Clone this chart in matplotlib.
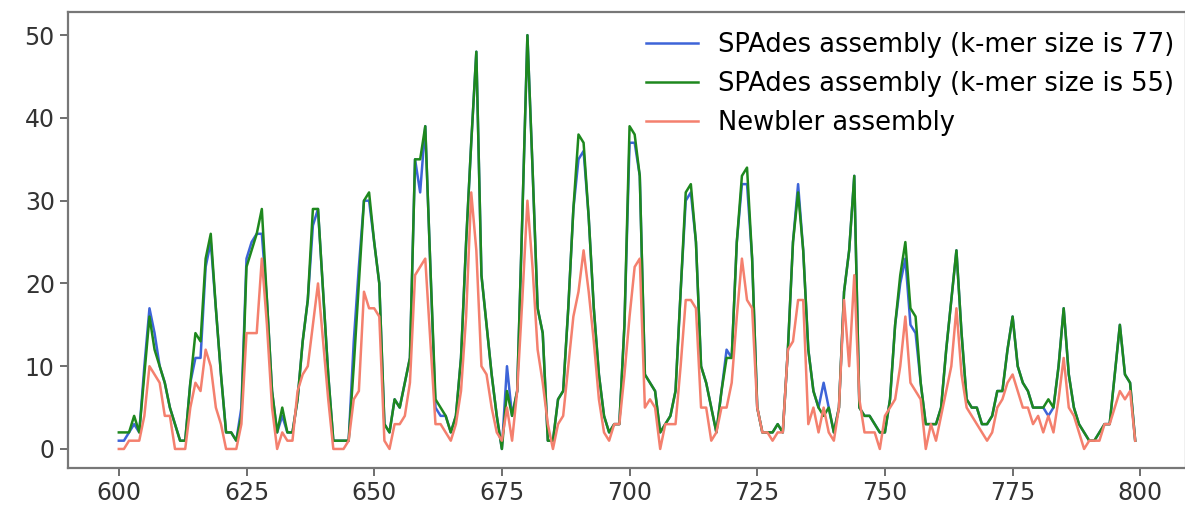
import numpy as np
import matplotlib
matplotlib.use("Agg")
import matplotlib.pyplot as plt

plt.rcParams['font.family'] = ['DejaVu Sans']

# positions 600..799
positions = np.arange(600, 800)

# SPAdes, k-mer size 55
spades_55 = [
    2, 2, 2, 4, 2, 9, 16, 12, 10, 8,       # 600
    5, 3, 1, 1, 8, 14, 13, 23, 26, 17,     # 610
    9, 2, 2, 1, 4, 22, 24, 26, 29, 18,     # 620
    7, 2, 5, 2, 2, 6, 13, 18, 29, 29,      # 630
    19, 9, 1, 1, 1, 1, 10, 20, 30, 31,     # 640
    25, 20, 3, 2, 6, 5, 8, 11, 35, 35,     # 650
    39, 22, 6, 5, 4, 2, 4, 11, 25, 37,     # 660
    48, 21, 15, 9, 4, 0, 7, 4, 7, 28,      # 670
    50, 34, 17, 14, 1, 1, 6, 7, 17, 29,    # 680
    38, 37, 28, 17, 9, 4, 2, 3, 3, 15,     # 690
    39, 38, 33, 9, 8, 7, 2, 3, 4, 7,       # 700
    19, 31, 32, 25, 10, 8, 5, 2, 7, 11,    # 710
    11, 25, 33, 34, 23, 5, 2, 2, 2, 3,     # 720
    2, 12, 25, 31, 24, 12, 7, 5, 4, 5,     # 730
    2, 5, 19, 24, 33, 5, 4, 4, 3, 2,       # 740
    2, 6, 15, 21, 25, 17, 16, 8, 3, 3,     # 750
    3, 5, 12, 18, 24, 14, 6, 5, 5, 3,      # 760
    3, 4, 7, 7, 12, 16, 10, 8, 7, 5,       # 770
    5, 5, 6, 5, 10, 17, 9, 5, 3, 2,        # 780
    1, 1, 2, 3, 3, 9, 15, 9, 8, 1,         # 790
]

# SPAdes, k-mer size 77
spades_77 = [
    1, 1, 2, 3, 2, 10, 17, 14, 10, 8,
    5, 3, 1, 1, 8, 11, 11, 22, 25, 17,
    9, 2, 2, 1, 5, 23, 25, 26, 26, 18,
    7, 2, 4, 2, 2, 6, 13, 18, 27, 29,
    19, 9, 1, 1, 1, 1, 13, 22, 30, 30,
    25, 20, 3, 2, 6, 5, 8, 11, 35, 31,
    39, 22, 5, 4, 4, 2, 4, 11, 25, 37,
    48, 21, 15, 9, 4, 0, 10, 4, 7, 28,
    50, 34, 17, 14, 1, 1, 6, 7, 17, 29,
    35, 36, 28, 17, 9, 4, 2, 3, 3, 15,
    37, 37, 33, 9, 8, 7, 2, 3, 4, 7,
    19, 30, 31, 25, 10, 8, 5, 2, 7, 12,
    11, 25, 32, 32, 23, 5, 2, 2, 2, 3,
    2, 12, 25, 32, 24, 12, 7, 5, 8, 5,
    2, 5, 19, 24, 33, 5, 4, 4, 3, 2,
    2, 6, 15, 20, 23, 15, 14, 8, 3, 3,
    3, 5, 12, 18, 24, 14, 6, 5, 5, 3,
    3, 4, 7, 7, 12, 16, 10, 8, 7, 5,
    5, 5, 4, 5, 10, 17, 9, 5, 3, 2,
    1, 1, 2, 3, 3, 9, 15, 9, 8, 1,
]

# Newbler
newbler = [
    0, 0, 1, 1, 1, 4, 10, 9, 8, 4,
    4, 0, 0, 0, 5, 8, 7, 12, 10, 5,
    3, 0, 0, 0, 3, 14, 14, 14, 23, 15,
    5, 0, 2, 1, 1, 7, 9, 10, 15, 20,
    13, 6, 0, 0, 0, 1, 6, 7, 19, 17,
    17, 16, 1, 0, 3, 3, 4, 8, 21, 22,
    23, 13, 3, 3, 2, 1, 3, 7, 16, 31,
    24, 10, 9, 5, 2, 1, 5, 1, 7, 18,
    30, 22, 12, 8, 3, 0, 3, 4, 10, 16,
    19, 24, 19, 13, 6, 2, 1, 3, 3, 9,
    16, 22, 23, 5, 6, 5, 0, 3, 3, 3,
    10, 18, 18, 17, 5, 5, 1, 2, 5, 5,
    8, 16, 23, 18, 17, 5, 2, 2, 1, 2,
    2, 12, 13, 18, 18, 3, 5, 2, 5, 2,
    1, 5, 18, 10, 21, 6, 2, 2, 2, 0,
    4, 5, 6, 10, 16, 8, 7, 6, 0, 3,
    1, 4, 7, 10, 17, 9, 5, 4, 3, 2,
    1, 2, 5, 6, 8, 9, 7, 5, 5, 3,
    4, 2, 4, 2, 6, 11, 5, 4, 2, 0,
    1, 1, 1, 3, 3, 5, 7, 6, 7, 1,
]

labels = ['SPAdes assembly (k-mer size is 77)',
          'SPAdes assembly (k-mer size is 55)',
          'Newbler assembly']

fig = plt.figure(figsize=(11.85, 5.16), dpi=100)
# right spine falls just outside the picture, as in the reference crop
ax = fig.add_axes([68 / 1185, 48 / 516, 1118 / 1185, 456 / 516])

ax.plot(positions, spades_77, color='#3d64d8', lw=1.8, label=labels[0])
ax.plot(positions, spades_55, color='#1e881e', lw=1.8, label=labels[1])
ax.plot(positions, newbler, color='#f4806e', lw=1.8, label=labels[2])

ax.set_xlim(590.05, 808.95)
ax.set_ylim(-2.3, 52.8)
ax.set_xticks(range(600, 801, 25))
ax.set_yticks(range(0, 51, 10))
ax.tick_params(labelsize=17, length=6, width=1.2, color='#555555', labelcolor='#333333')

for s in ax.spines.values():
    s.set_color('#777777')
    s.set_linewidth(1.6)

ax.legend(loc='upper right', bbox_to_anchor=(0.999, 0.978), frameon=False,
          fontsize=18.5, handlelength=2.0, labelspacing=0.5, borderaxespad=0.0)

fig.savefig('out.png', dpi=100)
